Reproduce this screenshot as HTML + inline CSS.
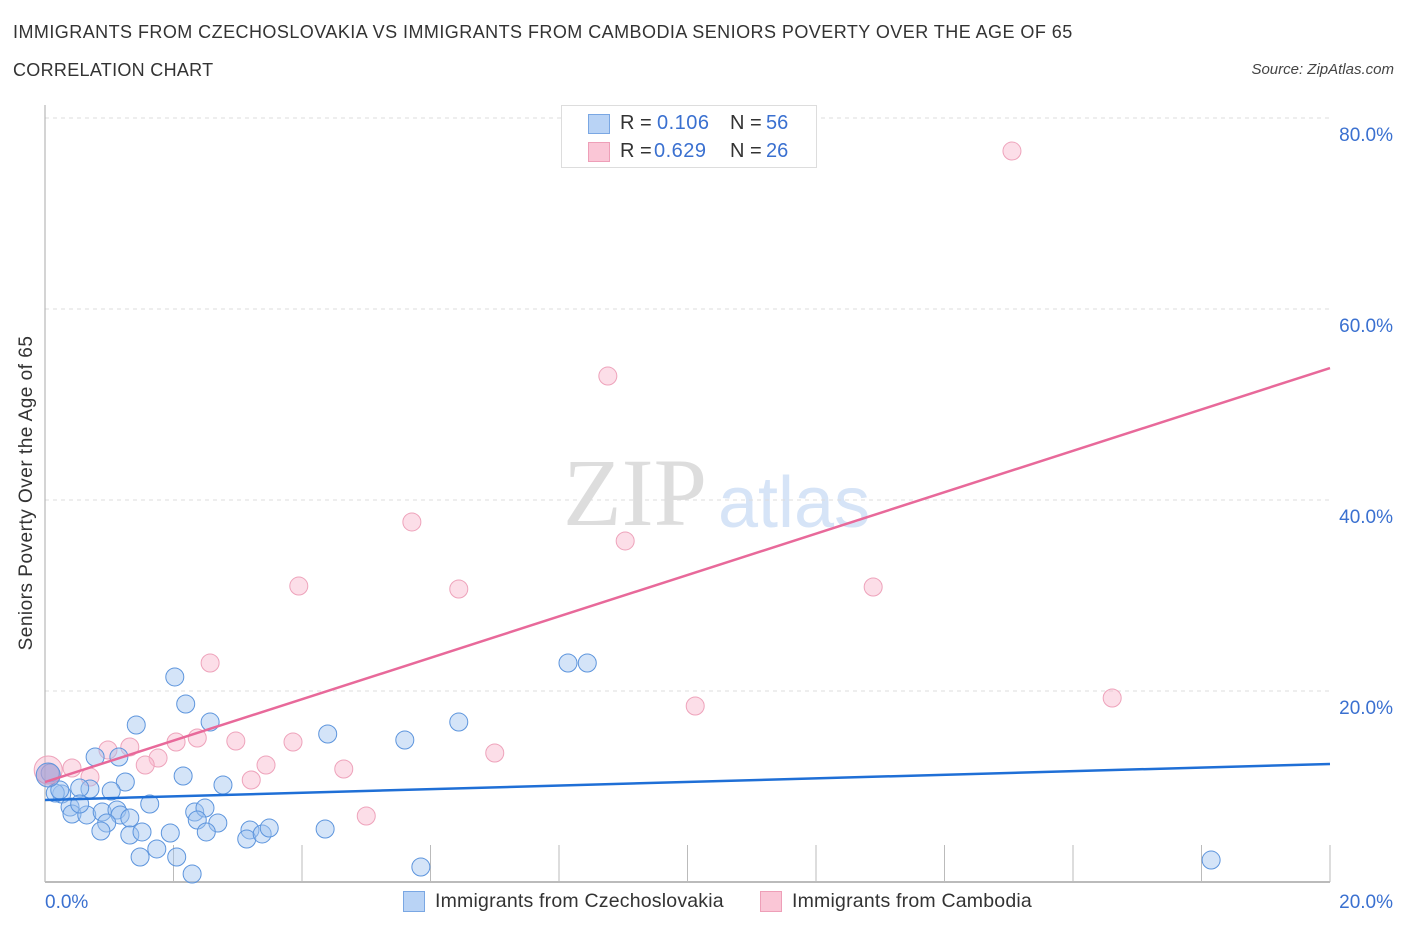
<!DOCTYPE html>
<html><head><meta charset="utf-8"><style>
body{margin:0;background:#fff;font-family:"Liberation Sans",sans-serif;}
#wrap{position:relative;width:1406px;height:930px;overflow:hidden;}
.t{position:absolute;white-space:nowrap;}
</style></head><body>
<div id="wrap">
<div class="t" style="left:13px;top:22px;font-size:18px;letter-spacing:0.45px;color:#333;">IMMIGRANTS FROM CZECHOSLOVAKIA VS IMMIGRANTS FROM CAMBODIA SENIORS POVERTY OVER THE AGE OF 65</div>
<div class="t" style="left:13px;top:60px;font-size:18px;letter-spacing:0.3px;color:#333;">CORRELATION CHART</div>
<div class="t" style="right:12px;top:61px;font-size:15px;color:#444;font-style:italic;">Source: ZipAtlas.com</div>
<svg id="plot" width="1406" height="930" style="position:absolute;left:0;top:0"></svg>
</div>
<script>
const yTicks=[20,40,60,80];
const yTickLabels=["20.0%","40.0%","60.0%","80.0%"];
const xTickLabels=["0.0%","20.0%"];
const blueX=[2.02,2.19,2.57,1.42,0.78,1.15,2.15,1.25,2.77,1.03,0.70,0.54,0.26,0.16,0.39,0.42,0.65,0.54,0.89,1.12,1.17,1.32,1.63,0.96,0.87,1.32,1.51,1.95,2.33,2.49,2.37,2.69,2.51,3.19,3.14,3.38,3.49,4.36,4.40,1.74,1.48,2.05,2.29,0.08,5.60,6.44,8.14,8.44,5.85,18.15,0.23];
const blueY=[21.47,18.64,16.75,16.44,13.09,13.09,11.10,10.47,10.16,9.53,9.74,9.84,9.21,9.32,7.85,7.12,7.02,8.17,7.33,7.54,7.02,6.70,8.17,6.18,5.34,4.92,5.24,5.13,7.33,7.75,6.49,6.18,5.24,5.45,4.50,5.03,5.65,5.55,15.50,3.46,2.62,2.62,0.84,11.41,14.87,16.75,22.93,22.93,1.57,2.30,9.63];
const pinkX=[15.05,8.76,5.71,9.03,6.44,3.95,12.89,2.57,16.61,10.12,2.37,2.97,2.04,3.86,1.32,0.98,7.00,1.76,1.56,3.44,4.65,0.42,0.70,3.21,5.00];
const pinkY=[76.54,52.98,37.70,35.71,30.68,30.99,30.89,22.93,19.27,18.43,15.08,14.76,14.66,14.66,14.14,13.82,13.51,12.98,12.25,12.25,11.83,11.94,10.99,10.68,6.91];
const bigX=[0.05,0.05];const bigY=[11.73,11.2];
const blueTrend=[8.59,12.36];const pinkTrend=[10.47,53.82];
const X=v=>45+v/20*1285, Y=v=>882-v/20*191;
const svg=document.getElementById('plot');const NS='http://www.w3.org/2000/svg';
function mk(tag,attrs,parent){const e=document.createElementNS(NS,tag);for(const k in attrs)e.setAttribute(k,attrs[k]);(parent||svg).appendChild(e);return e;}
let w=mk('text',{x:635,y:525,'font-size':96,'font-family':'Liberation Serif, serif',fill:'#ddd','text-anchor':'middle'});w.textContent='ZIP';


let w2=mk('text',{x:718,y:527,'font-size':72,'font-family':'Liberation Sans, sans-serif',fill:'#d6e4f7'});w2.textContent='atlas';


yTicks.forEach((t,i)=>{let g=mk('line',{x1:45,x2:1330,y1:Y(t),y2:Y(t),stroke:'#ddd','stroke-dasharray':'4,4'});


let l=mk('text',{x:1393,y:Y(t)+23,'font-size':19,fill:'#3a70d0','text-anchor':'end'});l.textContent=yTickLabels[i];

});
let ax=mk('line',{x1:45,x2:45,y1:105,y2:882,stroke:'#aaa'});


let bx=mk('line',{x1:45,x2:1330,y1:882,y2:882,stroke:'#bbb','stroke-width':2});


for(let i=1;i<=10;i++){let tk=mk('line',{x1:X(i*2),x2:X(i*2),y1:845,y2:882,stroke:'#bbb'});

}
xTickLabels.forEach((s,i)=>{let l=mk('text',{x:i?1393:45,y:908,'font-size':19,fill:'#3a70d0','text-anchor':i?'end':'start'});l.textContent=s;

});
function pts(xs,ys,fill,stroke,name,r){xs.forEach((x,i)=>{let c=mk('circle',{cx:X(x),cy:Y(ys[i]),r:r,fill:fill,stroke:stroke,'stroke-width':1});

});}
pts(pinkX,pinkY,'rgba(248,182,204,0.45)','#eea3bb','cambodia-point',9);
pts(blueX,blueY,'rgba(160,196,240,0.45)','#5d95dd','czechoslovakia-point',9);
let b1=mk('circle',{cx:X(bigX[0]),cy:Y(bigY[0]),r:14,fill:'rgba(248,182,204,0.45)',stroke:'#eea3bb'});


let b2=mk('circle',{cx:X(bigX[1]),cy:Y(bigY[1]),r:12,fill:'rgba(150,150,210,0.5)',stroke:'#5d95dd'});


let t1=mk('line',{x1:X(0),x2:X(20),y1:Y(blueTrend[0]),y2:Y(blueTrend[1]),stroke:'#1f6fd6','stroke-width':2.5});


let t2=mk('line',{x1:X(0),x2:X(20),y1:Y(pinkTrend[0]),y2:Y(pinkTrend[1]),stroke:'#e8699a','stroke-width':2.5});


</script>
<div class="t" style="left:27px;top:493px;font-size:19px;letter-spacing:0.5px;color:#333;transform:translate(-50%,-50%) rotate(-90deg);">Seniors Poverty Over the Age of 65</div>
<div style="position:absolute;left:561px;top:105px;width:254px;height:61px;border:1px solid #ddd;background:#fff;font-size:20px;color:#333;">
 <div style="position:absolute;left:26px;top:8px;width:20px;height:18px;background:#b9d3f5;border:1px solid #7aa7e3;"></div>
 <div class="t" style="left:58px;top:6px;">R =</div>
 <div class="t" style="left:95px;top:6px;color:#3a70d0;letter-spacing:0.5px;">0.106</div>
 <div class="t" style="left:168px;top:6px;">N =</div>
 <div class="t" style="left:204px;top:6px;color:#3a70d0;">56</div>
 <div style="position:absolute;left:26px;top:36px;width:20px;height:18px;background:#fac6d6;border:1px solid #ee9fb8;"></div>
 <div class="t" style="left:58px;top:34px;">R =</div>
 <div class="t" style="left:92px;top:34px;color:#3a70d0;letter-spacing:0.5px;">0.629</div>
 <div class="t" style="left:168px;top:34px;">N =</div>
 <div class="t" style="left:204px;top:34px;color:#3a70d0;">26</div>
</div>
<div style="position:absolute;left:403px;top:891px;width:20px;height:19px;background:#b9d3f5;border:1px solid #7aa7e3;"></div>
<div class="t" style="left:435px;top:890px;font-size:19.5px;letter-spacing:0.2px;color:#333;">Immigrants from Czechoslovakia</div>
<div style="position:absolute;left:760px;top:891px;width:20px;height:19px;background:#fac6d6;border:1px solid #ee9fb8;"></div>
<div class="t" style="left:792px;top:890px;font-size:19.5px;letter-spacing:0.2px;color:#333;">Immigrants from Cambodia</div>
</body></html>
